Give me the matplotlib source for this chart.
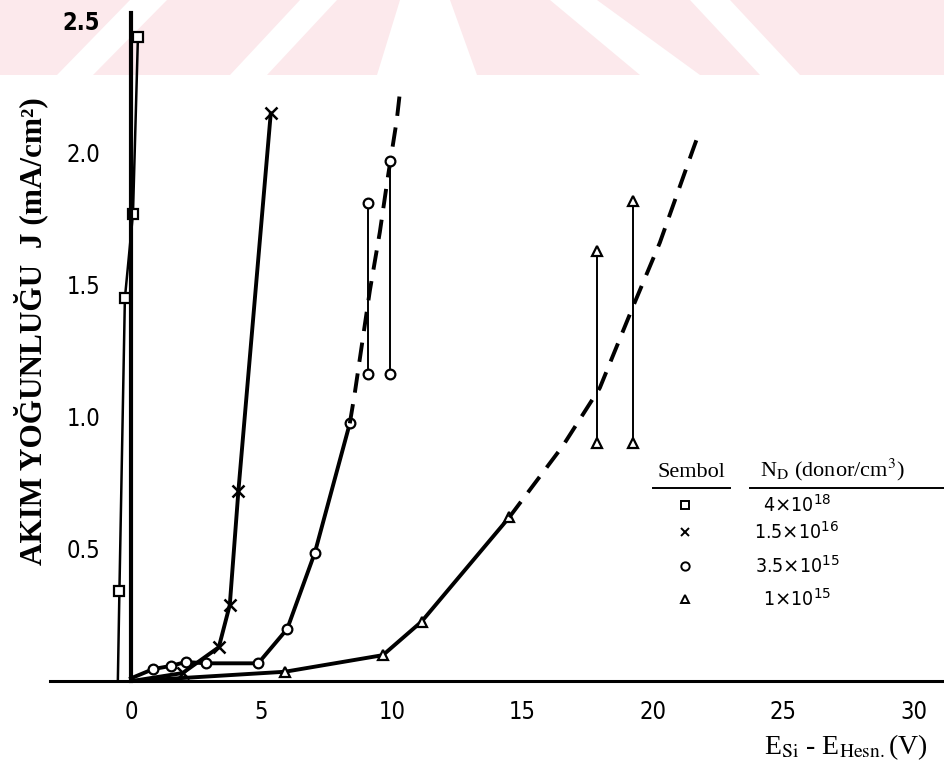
import matplotlib
matplotlib.use("Agg")
from matplotlib import pyplot as plt
from matplotlib.lines import Line2D
from matplotlib.patches import Polygon, Rectangle

# data (x: E_Si - E_Hesn in V, J in mA/cm2)
sq_x = [-0.5, -0.44, -0.23, 0.08, 0.27]
sq_j = [0.0, 0.34, 1.45, 1.77, 2.44]

cross_x = [0.05, 1.98, 3.37, 3.79, 4.12, 5.36]
cross_j = [0.0, 0.03, 0.128, 0.288, 0.72, 2.15]

circ_x = [0.0, 0.85, 1.52, 2.11, 2.87, 4.88, 5.99, 7.05, 8.39]
circ_j = [0.01, 0.045, 0.057, 0.072, 0.067, 0.067, 0.197, 0.486, 0.976]
circ_dash_x = [8.39, 8.58, 9.16, 9.54, 9.85, 10.19, 10.31]
circ_dash_j = [0.976, 1.09, 1.48, 1.70, 1.91, 2.125, 2.23]
circ_bar_x = [9.09, 9.92]
circ_bar_lo = [1.163, 1.163]
circ_bar_hi = [1.81, 1.97]

tri_x = [0.1, 5.90, 9.66, 11.14, 14.5]
tri_j = [0.0, 0.035, 0.098, 0.225, 0.62]
tri_dash_x = [14.5, 16.55, 17.97, 19.25, 20.27, 21.53, 21.75]
tri_dash_j = [0.62, 0.89, 1.11, 1.42, 1.66, 2.01, 2.07]
tri_bar_x = [17.87, 19.25]
tri_bar_lo = [0.90, 0.90]
tri_bar_hi = [1.63, 1.82]

xticks = [0, 5, 10, 15, 20, 25, 30]
yticks = [0.5, 1.0, 1.5, 2.0, 2.5]
ytick_labels = ["0.5", "1.0", "1.5", "2.0", "2.5"]
legend_labels = [r"4$\times$10$^{18}$", r"1.5$\times$10$^{16}$",
                 r"3.5$\times$10$^{15}$", r"1$\times$10$^{15}$"]
legend_markers = ["s", "x", "o", "^"]

plt.rcParams["mathtext.fontset"] = "stix"
tick_font = ["DejaVu Sans"]

W, H = 945, 762
fig = plt.figure(figsize=(W / 100, H / 100), dpi=100)

# pink watermark band at the top of the scan
pink = "#fce9ec"
fig.add_artist(Rectangle((0, 1 - 75 / H), 1, 75 / H, transform=fig.transFigure,
                         facecolor=pink, edgecolor="none", zorder=0))
stripes = [[(57, 75), (93, 75), (167, 0), (130, 0)],
           [(230, 75), (267, 75), (337, 0), (300, 0)],
           [(377, 75), (477, 75), (450, 0), (400, 0)],
           [(640, 75), (700, 75), (597, 0), (550, 0)],
           [(760, 75), (800, 75), (730, 0), (690, 0)]]
for s in stripes:
    fig.add_artist(Polygon([(px / W, 1 - py / H) for px, py in s],
                           transform=fig.transFigure, facecolor="white",
                           edgecolor="none", zorder=0))

ax = fig.add_axes([50 / W, 81 / H, 895 / W, 681 / H])
ax.patch.set_alpha(0)
ax.set_xlim(-3.1, 31.2)
ax.set_ylim(0, 681 / 264)

lw = 2.8
mk = dict(markersize=7, markerfacecolor="white", markeredgecolor="black",
          markeredgewidth=1.6, color="black")

ax.plot(sq_x, sq_j, marker="s", markevery=list(range(1, len(sq_x))), lw=1.8, **mk)
ax.plot(cross_x, cross_j, marker="x", markevery=list(range(1, len(cross_x))), lw=lw,
        markersize=8, markeredgewidth=1.8, color="black")
ax.plot(circ_x, circ_j, marker="o", markevery=list(range(1, len(circ_x))), lw=lw, **mk)
ax.plot(circ_dash_x, circ_dash_j, ls=(0, (5, 3)), lw=lw, color="black")
ax.vlines(circ_bar_x, circ_bar_lo, circ_bar_hi, color="black", lw=1.4)
ax.plot(circ_bar_x + circ_bar_x, circ_bar_lo + circ_bar_hi, ls="none", marker="o", **mk)

ax.plot(tri_x, tri_j, marker="^", markevery=list(range(1, len(tri_x))), lw=lw, **mk)
ax.plot(tri_dash_x, tri_dash_j, ls=(0, (5, 3)), lw=lw, color="black")
ax.vlines(tri_bar_x, tri_bar_lo, tri_bar_hi, color="black", lw=1.4)
ax.plot(tri_bar_x + tri_bar_x, tri_bar_lo + tri_bar_hi, ls="none", marker="^", **mk)

# axes: only the baseline and a y-axis line at x = 0
for side in ["top", "right"]:
    ax.spines[side].set_visible(False)
ax.spines["bottom"].set_linewidth(2.2)
ax.spines["left"].set_position(("data", 0))
ax.spines["left"].set_bounds(0, 2.53)
ax.spines["left"].set_linewidth(3)

ax.set_xticks(xticks)
ax.set_xticklabels([str(t) for t in xticks], fontfamily=tick_font, fontsize=17,
                   fontstretch="condensed")
ax.set_yticks(yticks)
ax.set_yticklabels(ytick_labels, fontfamily=tick_font, fontsize=17,
                   fontstretch="condensed")
ax.yaxis.get_ticklabels()[-1].set_fontweight("bold")
ax.tick_params(axis="x", length=0, pad=14)
ax.tick_params(axis="y", length=0, pad=22)

fig.text(846 / W, 1 - 747 / H, r"E$_{\mathrm{Si}}$ - E$_{\mathrm{Hesn.}}$(V)",
         ha="center", va="center", fontsize=20, fontfamily="Liberation Serif")
fig.text(31 / W, 1 - 331 / H, "AKIM YOĞUNLUĞU  J (mA/cm²)", rotation=90,
         ha="center", va="center", fontsize=22.5, fontweight="bold",
         fontfamily="Liberation Serif")

# symbol table
fig.text(691 / W, 1 - 472 / H, "Sembol", ha="center", va="center",
         fontsize=16, fontfamily="Liberation Serif")
fig.text(760 / W, 1 - 470 / H, r"N$_{\mathrm{D}}$ (donor/cm$^3$)", ha="left", va="center",
         fontsize=16, fontfamily="Liberation Serif")
fig.add_artist(Line2D([653 / W, 730 / W], [1 - 488 / H] * 2, color="black", lw=1.4))
fig.add_artist(Line2D([750 / W, 1.0], [1 - 488 / H] * 2, color="black", lw=1.4))
row_y = [505, 532, 566, 599]
for m, lab, ry in zip(legend_markers, legend_labels, row_y):
    fig.add_artist(Line2D([685 / W], [1 - ry / H], marker=m, ls="none",
                          markersize=6, markerfacecolor="white",
                          markeredgecolor="black", markeredgewidth=1.4))
    fig.text(797 / W, 1 - ry / H, lab, ha="center", va="center", fontsize=14,
             fontfamily=tick_font, fontstretch="condensed",
             math_fontfamily="dejavusans")

fig.savefig("out.png", dpi=100)
